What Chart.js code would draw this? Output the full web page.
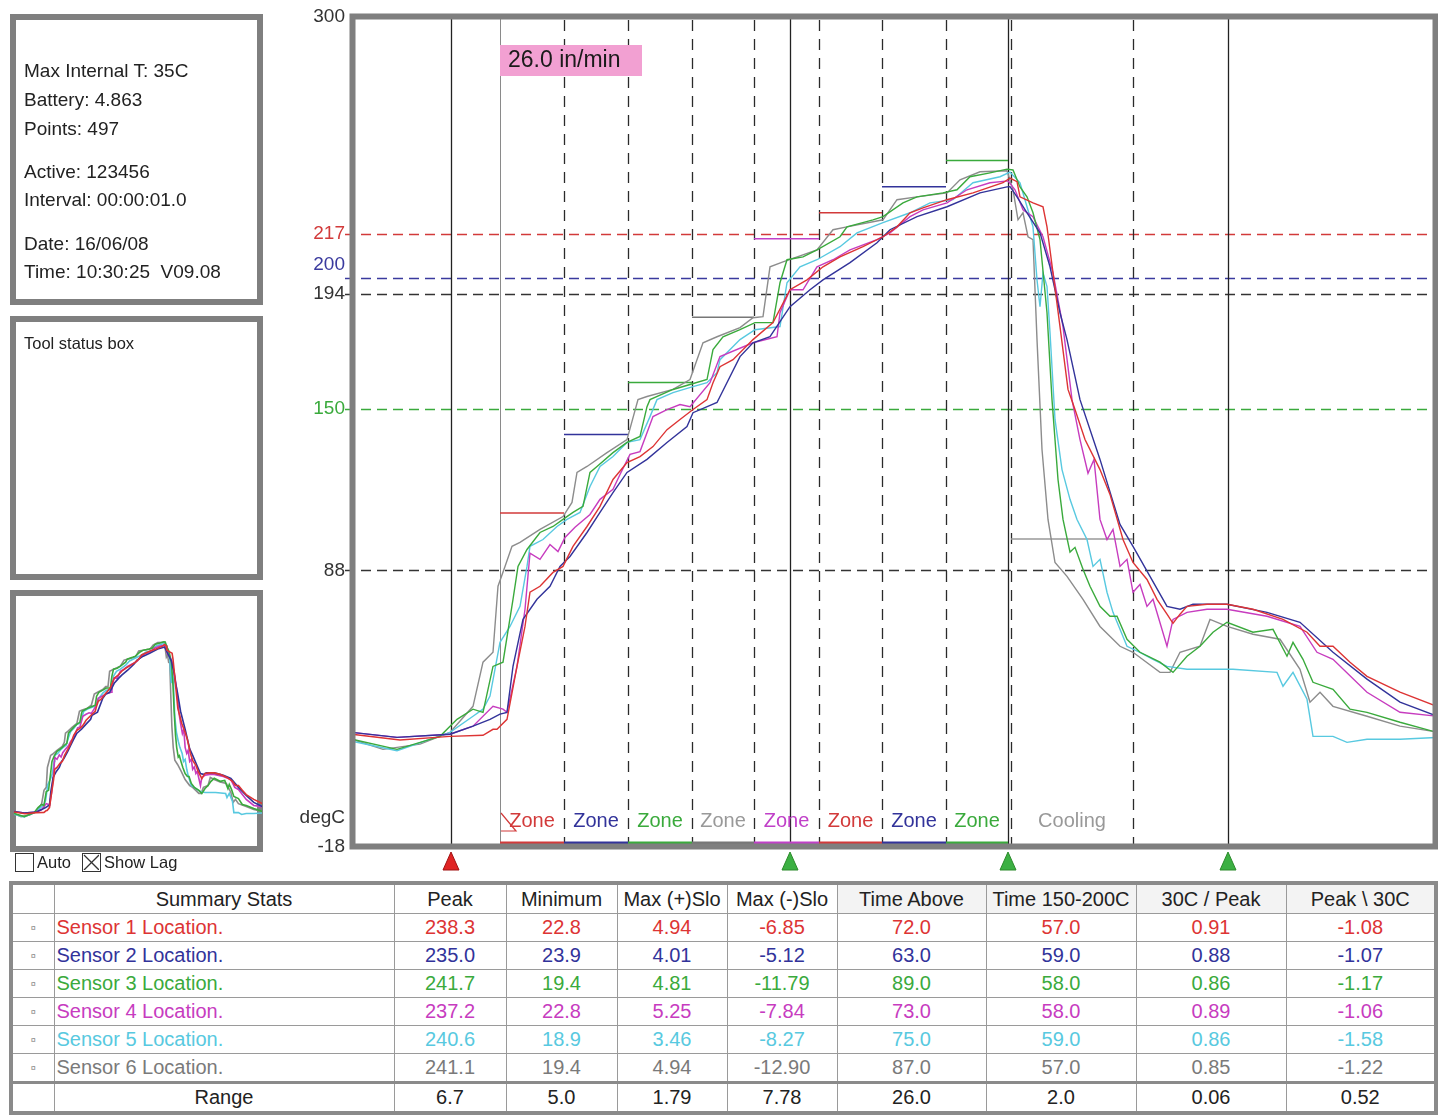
<!DOCTYPE html>
<html><head><meta charset="utf-8">
<script src="https://cdn.jsdelivr.net/npm/chart.js@4.4.0/dist/chart.umd.min.js"></script>
<style>
body{margin:0;background:#fff;font-family:"Liberation Sans",Arial,sans-serif;width:1438px;height:1115px;overflow:hidden;position:relative;color:#222}
.box{position:absolute;box-sizing:border-box;border:6px solid #7f7f7f;background:transparent}
.t{position:absolute;white-space:nowrap;line-height:22px}
#mainC{position:absolute;left:0;top:0}
#miniC{position:absolute;left:10px;top:590px;z-index:3}
table{position:absolute;left:9px;top:881px;border-collapse:collapse;table-layout:fixed;border:4px solid #8a8a8a;font-size:20px}
td{border:1.5px solid #9a9a9a;height:27px;padding:0;text-align:center;white-space:nowrap;overflow:hidden}
td.n{text-align:left;padding-left:2px}
td.m{font-size:9px;color:#888}
tr.h td{height:28px}
tr.h td.g{background:#f3f3f3}
tr.r td{border-top:3px solid #8a8a8a}
.cb{position:absolute;width:19px;height:19px;border:1.5px solid #333;box-sizing:border-box}
</style></head><body>
<canvas id="mainC" width="1438" height="880"></canvas>

<div class="box" style="left:10px;top:14px;width:253px;height:291px"></div>
<div class="t" style="left:24px;top:60px;font-size:19px">Max Internal T: 35C</div>
<div class="t" style="left:24px;top:89px;font-size:19px">Battery: 4.863</div>
<div class="t" style="left:24px;top:118px;font-size:19px">Points: 497</div>
<div class="t" style="left:24px;top:161px;font-size:19px">Active: 123456</div>
<div class="t" style="left:24px;top:189px;font-size:19px">Interval: 00:00:01.0</div>
<div class="t" style="left:24px;top:233px;font-size:19px">Date: 16/06/08</div>
<div class="t" style="left:24px;top:261px;font-size:19px">Time: 10:30:25&nbsp; V09.08</div>

<div class="box" style="left:10px;top:316px;width:253px;height:264px"></div>
<div class="t" style="left:24px;top:332px;font-size:16.5px">Tool status box</div>

<div class="box" style="left:10px;top:590px;width:253px;height:262px"></div>
<canvas id="miniC" width="253" height="262"></canvas>

<div class="cb" style="left:15px;top:853px"></div>
<div class="t" style="left:37px;top:851px;font-size:16.5px">Auto</div>
<div class="cb" style="left:82px;top:853px"><svg width="16" height="16" style="position:absolute;left:0;top:0"><line x1="1" y1="1" x2="16" y2="16" stroke="#333" stroke-width="1.3"/><line x1="16" y1="1" x2="1" y2="16" stroke="#333" stroke-width="1.3"/></svg></div>
<div class="t" style="left:104px;top:851px;font-size:16.5px">Show Lag</div>

<table id="stats"></table>

<script>
// ---------- DATA ----------
// time in seconds, temperature in degC
const S1 = [[0,25.2],[24,23.0],[49,24.4],[65.5,24.8],[70.5,27.1],[72.5,27.1],[77.5,30.9],[82.5,51.2],[86.5,66.5],[89,79.6],[94,81.9],[100.5,87.2],[105.5,89.5],[110.5,97.2],[117.5,104.8],[124,112.5],[130.5,122.8],[137.5,129.3],[144,131.6],[150.5,135.4],[157.5,141.9],[164,145.8],[170.5,149.6],[177.5,153.4],[180.5,159.9],[184,166.0],[190.5,168.7],[200.5,176.4],[210.5,182.9],[219,195.5],[227.5,199.3],[235.5,204.3],[244,208.1],[255.5,212.0],[265.5,215.8],[272.5,219.6],[279,225.0],[285.5,226.9],[297.5,230.0],[310.5,232.6],[325.5,236.5],[329,238.3],[332.5,236.9],[334,231.1],[340.5,228.8],[345.5,227.3],[347.5,219.6],[350.5,202.0],[354,181.4],[358,157.3],[361.5,149.6],[366.5,138.1],[374,126.6],[379,117.1],[385.5,99.8],[390.5,91.0],[397.5,84.5],[402.5,76.9],[407.5,71.2],[410.5,67.7],[414,71.2],[417.5,74.2],[427.5,75.0],[437.5,75.0],[450.5,73.1],[465.5,69.2],[477.5,64.3],[484,58.9],[490.5,58.9],[499,52.8],[507.5,47.4],[524,41.3],[542.5,35.9]];
const S2 = [[0,25.9],[22.5,24.0],[49,25.2],[60.5,28.3],[69,30.9],[74,32.9],[77.5,33.6],[80.5,51.2],[85.5,69.2],[92.5,76.9],[99,81.9],[104,89.5],[109,93.3],[117.5,102.5],[124,110.2],[130.5,117.8],[137.5,125.5],[147.5,130.5],[157.5,137.0],[167.5,143.1],[170.5,148.4],[182.5,152.3],[194,169.9],[200.5,175.2],[209,177.5],[219,189.0],[229,195.5],[235.5,199.3],[249,205.9],[262.5,213.5],[269,218.5],[282.5,223.5],[297.5,227.3],[314,232.6],[327.5,234.9],[329,235.0],[332.5,231.1],[337.5,225.0],[344,217.3],[349,204.3],[354,186.7],[357.5,176.4],[364,153.4],[374,130.5],[384,105.6],[390.5,97.2],[399,85.7],[407.5,74.2],[414,73.1],[420.5,75.0],[437.5,75.0],[457.5,71.9],[474,68.1],[490.5,56.6],[507.5,46.3],[524,37.5],[542.5,32.1]];
const S3 = [[0,23.3],[22.5,19.4],[44,24.4],[52.5,30.9],[60.5,34.8],[65.5,33.6],[70.5,51.2],[75.5,52.8],[80.5,76.9],[83,89.5],[87.5,96.0],[94,102.5],[100.5,104.8],[105.5,107.5],[110.5,110.2],[115.5,112.5],[119,125.5],[122.5,127.8],[130.5,133.1],[137.5,137.0],[144,139.3],[147.5,150.7],[149,153.4],[160.5,157.3],[169,159.2],[177.5,161.1],[180.5,172.6],[185.5,177.5],[194,180.2],[201.5,182.9],[210.5,182.9],[214,198.2],[217.5,207.0],[225.5,208.1],[232.5,210.8],[244,215.8],[247.5,219.6],[260.5,222.3],[265.5,223.5],[275.5,228.8],[282.5,231.1],[295.5,232.6],[302.5,233.8],[309,238.8],[319,240.3],[327.5,241.7],[330.5,241.4],[334,234.9],[337.5,231.1],[340.5,225.0],[344,214.7],[347.5,186.7],[350,153.4],[353,122.8],[355.5,107.5],[359,95.0],[361.5,96.8],[365.5,88.4],[369,81.9],[374,74.2],[379,70.4],[382.5,70.4],[387.5,61.6],[394,56.6],[404,52.8],[410.5,48.9],[417.5,55.1],[424,58.9],[430.5,64.3],[437.5,68.1],[450.5,64.3],[460.5,65.4],[467.5,55.1],[470.5,60.4],[475.5,53.9],[480.5,45.1],[490.5,42.4],[499,34.8],[507.5,33.6],[524,29.8],[542.5,25.9]];
const S4 = [[0,25.9],[22.5,24.0],[49,25.2],[60.5,28.3],[70.5,35.9],[75.5,34.8],[77.5,33.6],[82.5,51.2],[86.5,73.1],[89,94.6],[94,92.2],[99,97.9],[103,95.2],[106.5,100.6],[111.5,104.5],[119,109.4],[124,115.2],[130.5,119.0],[134,124.7],[139,132.4],[144,133.5],[150.5,146.9],[157.5,149.6],[164,151.5],[169,150.7],[179,159.9],[184,169.9],[200.5,175.2],[212.5,177.5],[214,186.7],[219,195.5],[225.5,195.5],[232.5,204.3],[240.5,207.0],[249,210.8],[262.5,214.7],[269,217.3],[279,223.5],[285.5,226.1],[297.5,228.8],[307.5,233.8],[319,236.5],[328,237.2],[331.5,233.8],[335.5,226.1],[340.5,223.5],[345.5,215.8],[350.5,202.0],[355.5,181.4],[360,153.4],[364,138.1],[368,125.2],[371,130.5],[374,107.5],[377.5,99.8],[380.5,103.7],[384,89.5],[387.5,92.2],[390.5,79.6],[394,82.6],[397.5,74.2],[400.5,76.9],[407.5,58.9],[410.5,69.2],[417.5,71.9],[427.5,73.1],[437.5,73.1],[457.5,70.4],[474,66.5],[482.5,56.6],[490.5,53.9],[507.5,41.3],[524,33.6],[542.5,32.1]];
const S5 = [[0,22.5],[22.5,18.9],[49,25.9],[60.5,32.1],[65.5,34.8],[69,39.8],[74,60.4],[79,66.5],[84,74.2],[87.5,89.5],[89,97.2],[95.5,99.8],[102.5,104.8],[107.5,107.5],[114,110.2],[119,120.1],[124,127.8],[130.5,131.6],[137.5,137.0],[144,138.1],[149,146.9],[152.5,153.4],[160.5,156.1],[170.5,158.4],[177.5,159.9],[182.5,163.7],[184,168.7],[194,176.4],[201.5,180.2],[214,181.4],[217.5,198.2],[224,204.3],[232.5,207.0],[244,212.0],[252.5,217.3],[265.5,221.2],[279,225.0],[289,228.8],[300.5,230.0],[310.5,236.5],[324,238.8],[329,240.6],[334,236.5],[337.5,227.3],[340.5,219.6],[342.5,199.3],[344,189.0],[345.5,202.0],[347.5,196.7],[349,179.1],[351.5,145.8],[355,126.6],[359,115.2],[362.5,107.5],[367.5,99.8],[370.5,89.5],[374,92.2],[377.5,79.6],[380.5,71.9],[387.5,58.9],[394,56.6],[400.5,53.9],[407.5,51.2],[417.5,50.1],[440.5,50.1],[462.5,48.9],[465.5,43.6],[470.5,48.9],[477.5,38.6],[480.5,24.4],[490.5,24.4],[497.5,22.1],[507.5,23.3],[524,23.3],[542.5,24.0]];
const S6 = [[0,23.3],[15.5,19.4],[34,21.4],[49,25.9],[60.5,35.9],[65.5,52.8],[70.5,56.6],[73,81.9],[76.5,89.5],[80,97.2],[84,98.7],[94,103.7],[105.5,108.6],[110,114.0],[112.5,125.5],[117.5,127.8],[127.5,133.1],[137.5,138.1],[143,153.4],[147.5,154.6],[160.5,157.3],[169,161.1],[175.5,175.2],[182.5,177.5],[194,181.0],[200.5,184.8],[205.5,185.2],[209,204.3],[215.5,206.2],[232.5,210.8],[240.5,218.5],[247.5,219.6],[265.5,222.3],[272.5,230.0],[282.5,231.1],[297.5,232.6],[304,237.6],[314,240.7],[327.5,241.1],[330.5,233.8],[333,222.3],[335.5,225.0],[338,215.8],[340.5,214.7],[342.5,176.4],[345,134.3],[348,107.5],[351.5,91.0],[357.5,85.7],[365.5,76.9],[374,66.5],[384,58.9],[390.5,56.6],[404,48.9],[409,48.9],[414,56.6],[424,58.9],[429,69.2],[437.5,66.5],[450.5,63.5],[464,61.6],[474,50.1],[479,37.5],[484,41.3],[490.5,35.9],[507.5,32.1],[524,28.3],[540.5,26.3]];

const SENSORS = [S1, S2, S3, S4, S5, S6];
const SENSOR_NAMES = ['Sensor 1 Location.','Sensor 2 Location.','Sensor 3 Location.','Sensor 4 Location.','Sensor 5 Location.','Sensor 6 Location.'];
const SENSOR_COLORS = ['#dd3434','#32339a','#3aaa3c','#c73cbf','#58c9e0','#8c8c8c'];

const Y_TICKS = [300, 217, 200, 194, 150, 88, -18];
const Y_TICK_COLORS = ['#333','#d23a3a','#3a3a9e','#333','#3aaa3c','#333','#333'];
const THRESHOLDS = [217, 200, 194, 150, 88];
const THRESH_COLORS = ['#d23a3a','#3a3a9e','#333','#3aaa3c','#333'];

const ZONE_NAMES = ['Zone','Zone','Zone','Zone','Zone','Zone','Zone','Zone','Cooling'];
const ZONE_START = [74, 106, 138, 170, 201, 233.5, 265, 297, 329.5];
const ZONE_END   = [106, 138, 170, 201, 233.5, 265, 297, 328, 390.5];
const ZONE_SETPOINT = [110, 140, 160, 185, 215, 225, 235, 245, 100];
const ZONE_COLORS = ['#d23a3a','#32339a','#3aaa3c','#999999','#c040c8','#d23a3a','#32339a','#3aaa3c','#999999'];
const ZONE_LINE_COLORS = ['#d23a3a','#32339a','#3aaa3c','#777777','#c040c8','#d23a3a','#32339a','#3aaa3c','#999999'];
const DASHED_BOUNDS = [106, 138, 170, 201, 233.5, 265, 297, 329.5, 390.5];
const MARKERS = [49.5, 219, 328, 438];
const MARKER_COLORS = ['#e02424','#3cb043','#3cb043','#3cb043'];
const SPEED_LABEL = '26.0 in/min';

const STAT_HEADERS = ['Summary Stats','Peak','Minimum','Max (+)Slo','Max (-)Slo','Time Above','Time 150-200C','30C / Peak','Peak \\ 30C'];
const PEAK     = ['238.3','235.0','241.7','237.2','240.6','241.1'];
const MINIMUM  = ['22.8','23.9','19.4','22.8','18.9','19.4'];
const MAX_POS  = ['4.94','4.01','4.81','5.25','3.46','4.94'];
const MAX_NEG  = ['-6.85','-5.12','-11.79','-7.84','-8.27','-12.90'];
const T_ABOVE  = ['72.0','63.0','89.0','73.0','75.0','87.0'];
const T_150200 = ['57.0','59.0','58.0','58.0','59.0','57.0'];
const R30_PEAK = ['0.91','0.88','0.86','0.89','0.86','0.85'];
const PEAK_30  = ['-1.08','-1.07','-1.17','-1.06','-1.58','-1.22'];
const RANGE    = ['6.7','5.0','1.79','7.78','26.0','2.0','0.06','0.52'];

// ---------- TABLE ----------
(function(){
  const widths=[43,340,112,111,110,110,149,150,150,150];
  const tb=document.getElementById('stats');
  let h='<colgroup>'+widths.map(w=>'<col style="width:'+w+'px">').join('')+'</colgroup>';
  h+='<tr class="h"><td></td>'+STAT_HEADERS.map((s,i)=>'<td'+(i>=5?' class="g"':'')+'>'+s+'</td>').join('')+'</tr>';
  const cols=[PEAK,MINIMUM,MAX_POS,MAX_NEG,T_ABOVE,T_150200,R30_PEAK,PEAK_30];
  SENSOR_NAMES.forEach((n,r)=>{
    const c=SENSOR_COLORS[r]==='#8c8c8c'?'#7a7a7a':SENSOR_COLORS[r];
    h+='<tr style="color:'+c+'"><td class="m">&#164;</td><td class="n">'+n+'</td>'+cols.map(a=>'<td>'+a[r]+'</td>').join('')+'</tr>';
  });
  h+='<tr class="r"><td></td><td>Range</td>'+RANGE.map(v=>'<td>'+v+'</td>').join('')+'</tr>';
  tb.innerHTML=h;
})();

// ---------- CHARTS ----------
const FONT='"Liberation Sans", Arial, sans-serif';
function sensorDatasets(w){
  return SENSORS.map((s,i)=>({data:s.map(p=>({x:p[0],y:p[1]})),borderColor:SENSOR_COLORS[i],borderWidth:w,pointRadius:0,tension:0,fill:false}));
}
function setpointDatasets(){
  return ZONE_START.map((s,i)=>({data:[{x:s,y:ZONE_SETPOINT[i]},{x:ZONE_END[i],y:ZONE_SETPOINT[i]}],borderColor:ZONE_LINE_COLORS[i],borderWidth:1.5,pointRadius:0,tension:0,fill:false}));
}

const overlay={
  id:'overlay',
  beforeDatasetsDraw(chart){
    const {ctx,chartArea:a,scales:{x,y}}=chart;
    ctx.save();
    ctx.lineWidth=1.4;
    ctx.setLineDash([10,6]);
    THRESHOLDS.forEach((v,i)=>{
      const py=Math.round(y.getPixelForValue(v))+0.5;
      ctx.strokeStyle=THRESH_COLORS[i];
      ctx.beginPath();ctx.moveTo(a.left-7,py);ctx.lineTo(a.right,py);ctx.stroke();
    });
    ctx.setLineDash([11,8]);ctx.strokeStyle='#2a2a2a';ctx.lineWidth=1.3;
    DASHED_BOUNDS.forEach(t=>{
      const px=Math.round(x.getPixelForValue(t))+0.5;
      ctx.beginPath();ctx.moveTo(px,a.top+3);ctx.lineTo(px,a.bottom);ctx.stroke();
    });
    ctx.setLineDash([]);
    // thin line at conveyor start
    const p0=Math.round(x.getPixelForValue(ZONE_START[0]))+0.5;
    ctx.strokeStyle='#8a8a8a';ctx.lineWidth=1;
    ctx.beginPath();ctx.moveTo(p0,a.top);ctx.lineTo(p0,a.bottom);ctx.stroke();
    ctx.strokeStyle='#222';ctx.lineWidth=1.3;
    MARKERS.forEach(t=>{
      const px=Math.round(x.getPixelForValue(t))+0.5;
      ctx.beginPath();ctx.moveTo(px,a.top);ctx.lineTo(px,a.bottom);ctx.stroke();
    });
    ctx.restore();
  },
  afterDatasetsDraw(chart){
    const {ctx,chartArea:a,scales:{x,y}}=chart;
    ctx.save();
    // zone bars at bottom
    ctx.lineWidth=3;
    ZONE_START.forEach((s,i)=>{
      if(i>=8) return;
      ctx.strokeStyle=ZONE_LINE_COLORS[i];
      ctx.beginPath();ctx.moveTo(x.getPixelForValue(s),a.bottom-4);ctx.lineTo(x.getPixelForValue(ZONE_END[i]),a.bottom-4);ctx.stroke();
    });
    // frame
    ctx.strokeStyle='#7f7f7f';ctx.lineWidth=6;
    ctx.strokeRect(a.left+0.5,a.top-0.5,a.right-a.left-1,a.bottom-a.top);
    // zone labels
    ctx.font='20px '+FONT;ctx.textAlign='center';ctx.textBaseline='middle';
    ZONE_NAMES.forEach((n,i)=>{
      ctx.fillStyle=ZONE_COLORS[i];
      const cx=(x.getPixelForValue(ZONE_START[i])+x.getPixelForValue(ZONE_END[i]))/2;
      ctx.fillText(n,cx,a.bottom-26);
    });
    // small ramp icon at conveyor start
    const z0=x.getPixelForValue(ZONE_START[0]);
    ctx.strokeStyle='#d23a3a';ctx.lineWidth=1.2;
    ctx.beginPath();ctx.moveTo(z0+1,a.bottom-34);ctx.lineTo(z0+16,a.bottom-16);ctx.lineTo(z0+1,a.bottom-16);ctx.stroke();
    // y labels
    ctx.font='19px '+FONT;ctx.textAlign='right';
    Y_TICKS.forEach((v,i)=>{
      ctx.fillStyle=Y_TICK_COLORS[i];
      let py=y.getPixelForValue(v);
      if(v===200) py-=13;
      ctx.fillText(String(v),a.left-7,py);
    });
    ctx.fillStyle='#333';ctx.fillText('degC',a.left-7,a.bottom-29);
    // marker triangles
    MARKERS.forEach((t,i)=>{
      const px=x.getPixelForValue(t);
      ctx.fillStyle=MARKER_COLORS[i];ctx.strokeStyle=i===0?'#a01010':'#2a8a2a';ctx.lineWidth=1;
      ctx.beginPath();ctx.moveTo(px,a.bottom+5);ctx.lineTo(px+8,a.bottom+23);ctx.lineTo(px-8,a.bottom+23);ctx.closePath();ctx.fill();ctx.stroke();
    });
    // speed label
    const sx=x.getPixelForValue(ZONE_START[0]);
    ctx.fillStyle='#f2a0d2';ctx.fillRect(sx,a.top+28,142,31);
    ctx.fillStyle='#1a1a1a';ctx.font='23px '+FONT;ctx.textAlign='left';
    ctx.fillText(SPEED_LABEL,sx+8,a.top+44);
    ctx.restore();
  }
};

new Chart(document.getElementById('mainC'),{
  type:'line',
  data:{datasets:[...sensorDatasets(1.4),...setpointDatasets()]},
  options:{
    responsive:false,animation:false,devicePixelRatio:1,
    layout:{padding:{left:352,right:2,top:17,bottom:33}},
    scales:{x:{type:'linear',min:0,max:542,display:false},y:{type:'linear',min:-18,max:300,display:false}},
    plugins:{legend:{display:false},tooltip:{enabled:false},title:{display:false}},
    events:[]
  },
  plugins:[overlay]
});

new Chart(document.getElementById('miniC'),{
  type:'line',
  data:{datasets:sensorDatasets(1.6)},
  options:{
    responsive:false,animation:false,devicePixelRatio:1,
    layout:{padding:{left:4,right:1,top:6,bottom:6}},
    scales:{x:{type:'linear',min:0,max:542,display:false},y:{type:'linear',min:-18,max:300,display:false}},
    plugins:{legend:{display:false},tooltip:{enabled:false}},
    events:[]
  }
});
</script>
</body></html>
